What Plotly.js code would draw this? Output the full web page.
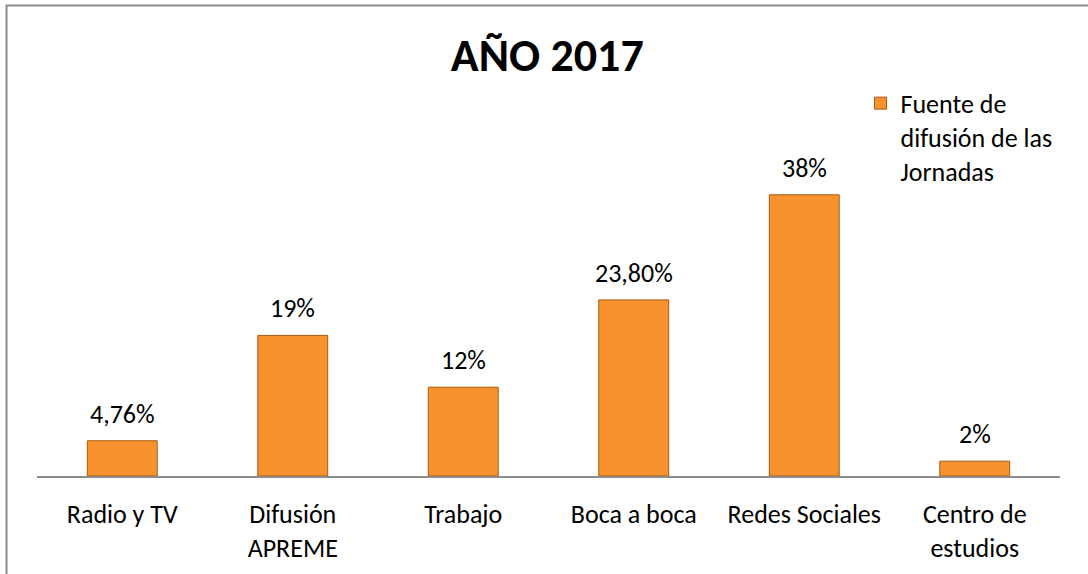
<!DOCTYPE html>
<html>
<head>
<meta charset="utf-8">
<script src="https://cdn.plot.ly/plotly-3.0.1.min.js"></script>
<style>
html,body{margin:0;padding:0;background:#fff;}
#chart{width:1088px;height:574px;}
</style>
</head>
<body>
<div id="chart"></div>
<script>
const categories = ["Radio y TV", "Difusión<br>APREME", "Trabajo", "Boca a boca", "Redes Sociales", "Centro de<br>estudios"];
const values = [4.76, 19, 12, 23.8, 38, 2];
const valueLabels = ["4,76%", "19%", "12%", "23,80%", "38%", "2%"];
const seriesName = "Fuente de<br>difusión de las<br>Jornadas";
const chartTitle = "<b>AÑO 2017</b>";

const FONT = "Carlito, Lato, 'Open Sans', sans-serif";

const trace = {
  type: "bar",
  x: categories,
  y: values,
  name: seriesName,
  width: 0.41,
  marker: {color: "#F7922E", line: {color: "#A8590F", width: 1}},
  hoverinfo: "none",
  showlegend: true
};

const annotations = categories.map((c, i) => ({
  x: c, y: values[i], xref: "x", yref: "y",
  text: valueLabels[i], showarrow: false,
  yanchor: "bottom", yshift: 9,
  font: {family: FONT, size: 26, color: "#000"}
}));

const layout = {
  width: 1088, height: 574,
  margin: {l: 37, r: 28, t: 143, b: 98},
  paper_bgcolor: "#fff", plot_bgcolor: "#fff",
  title: {text: chartTitle, x: 0.503, xanchor: "center", y: 0.905, yanchor: "middle",
          font: {family: FONT, size: 46, color: "#000"}},
  xaxis: {showline: true, linecolor: "#8c8c8c", linewidth: 1.5, ticks: "",
          ticklabelstandoff: 14,
          tickfont: {family: FONT, size: 26, color: "#000"}, showgrid: false, zeroline: false},
  yaxis: {range: [0, 45], visible: false, showgrid: false, zeroline: false},
  showlegend: true,
  legend: {x: 0.805, y: 1.19, xanchor: "left", yanchor: "top", valign: "top",
           font: {family: FONT, size: 26, color: "#000"}, bgcolor: "rgba(0,0,0,0)",
           itemwidth: 30, tracegroupgap: 0},
  annotations: annotations,
  shapes: [{type: "rect", xref: "paper", yref: "paper",
            x0: -0.0298, x1: 1.2, y0: -0.4, y1: 1.413,
            line: {color: "#8c8c8c", width: 2}, fillcolor: "rgba(0,0,0,0)"}],
  bargap: 0.59
};

Plotly.newPlot("chart", [trace], layout, {displayModeBar: false, staticPlot: true});
</script>
</body>
</html>
